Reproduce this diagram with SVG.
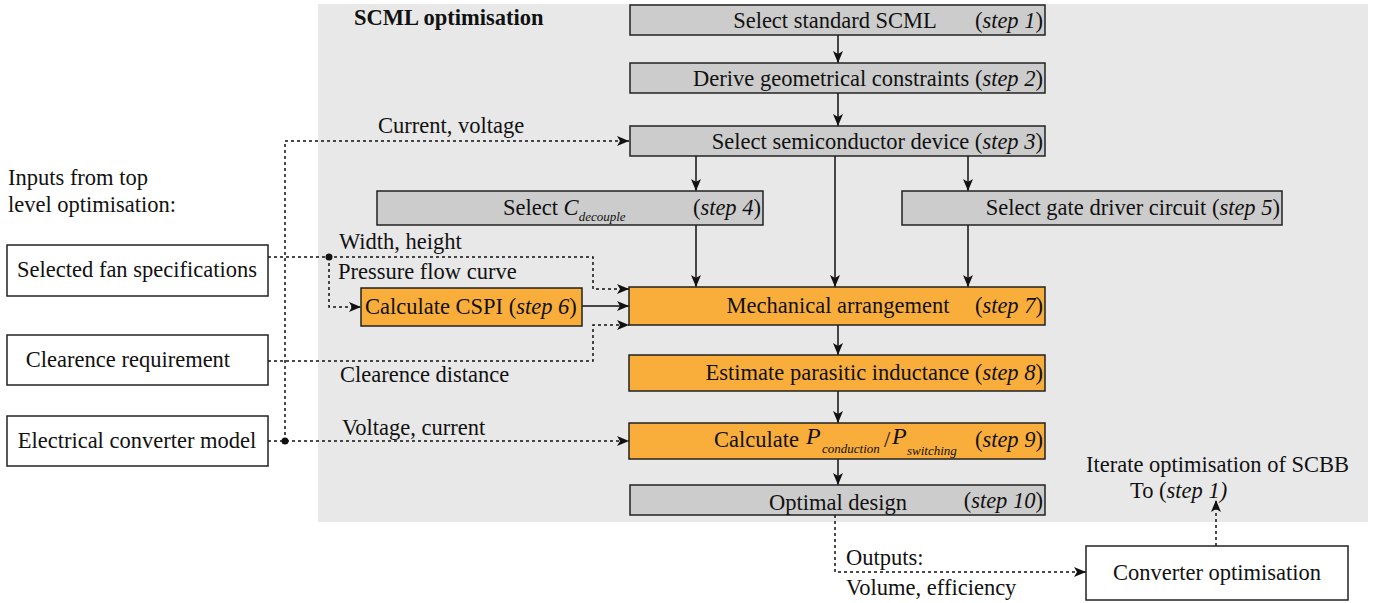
<svg xmlns="http://www.w3.org/2000/svg" width="1379" height="603" viewBox="0 0 1379 603">
<style>
text{font-size:22.5px;fill:#111}
.b{font-weight:bold;font-size:22.5px}
.i{font-style:italic}
.g{fill:#cccccc;stroke:#222;stroke-width:1.5}
.o{fill:#f9ae3b;stroke:#222;stroke-width:1.5}
.w{fill:#fff;stroke:#222;stroke-width:1.5}
.s{fill:none;stroke:#111;stroke-width:1.5}
.d{fill:none;stroke:#111;stroke-width:1.5;stroke-dasharray:3 3}
.sub{font-size:13px;font-style:italic}
.P{font-size:24px;font-style:italic}
</style>
<defs>
<marker id="a" viewBox="0 0 12 10" refX="12" refY="5" markerWidth="12" markerHeight="10" markerUnits="userSpaceOnUse" orient="auto">
<path d="M0,0 L12,5 L0,10 L3,5 Z" fill="#111"/>
</marker>
</defs>
<g style="font-family:'Liberation Serif',serif">
<rect x="318" y="4" width="1050" height="518" fill="#e8e8e8"/>
<text class="b" x="354" y="25">SCML optimisation</text>
<text x="8" y="185">Inputs from top</text>
<text x="8" y="212">level optimisation:</text>

<g id="connectors">
<path class="s" d="M838,35 V63" marker-end="url(#a)"/>
<path class="s" d="M838,93 V126" marker-end="url(#a)"/>
<path class="s" d="M696,156 V191" marker-end="url(#a)"/>
<path class="s" d="M835,156 V287" marker-end="url(#a)"/>
<path class="s" d="M968,156 V191" marker-end="url(#a)"/>
<path class="s" d="M696,225 V287" marker-end="url(#a)"/>
<path class="s" d="M968,225 V287" marker-end="url(#a)"/>
<path class="s" d="M582,306 H629" marker-end="url(#a)"/>
<path class="s" d="M838,325 V355" marker-end="url(#a)"/>
<path class="s" d="M838,391 V423" marker-end="url(#a)"/>
<path class="s" d="M838,459 V485" marker-end="url(#a)"/>
<path class="d" d="M835,515 V572 H1086" marker-end="url(#a)"/>
<path class="d" d="M1216,546 V500" marker-end="url(#a)"/>
<path class="d" d="M285,441 V141 H629" marker-end="url(#a)"/>
<path class="d" d="M268,441 H629" marker-end="url(#a)"/>
<circle cx="285" cy="441" r="3.5" fill="#111"/>
<path class="d" d="M268,257 H593 V289 H629" marker-end="url(#a)"/>
<path class="d" d="M329,257 V307 H361" marker-end="url(#a)"/>
<circle cx="329" cy="257" r="3.5" fill="#111"/>
<path class="d" d="M268,361 H593 V325 H629" marker-end="url(#a)"/>
<text x="378" y="133">Current, voltage</text>
<text x="339" y="249">Width, height</text>
<text x="338" y="279">Pressure flow curve</text>
<text x="340" y="382">Clearence distance</text>
<text x="342" y="435">Voltage, current</text>
<text x="846" y="565">Outputs:</text>
<text x="846" y="595">Volume, efficiency</text>
<text x="1086" y="472">Iterate optimisation of SCBB</text>
<text x="1130" y="498">To (<tspan class="i">step 1)</tspan></text>
</g>

<g id="step1"><rect class="g" x="630" y="5" width="415" height="30"/>
<text x="835" y="28" text-anchor="middle">Select standard SCML</text>
<text x="1043" y="28" text-anchor="end">(<tspan class="i">step 1</tspan>)</text></g>
<g id="step2"><rect class="g" x="630" y="63" width="415" height="30"/>
<text x="1043" y="86" text-anchor="end">Derive geometrical constraints (<tspan class="i">step 2</tspan>)</text></g>
<g id="step3"><rect class="g" x="630" y="126" width="415" height="30"/>
<text x="1043" y="149" text-anchor="end">Select semiconductor device  (<tspan class="i">step 3</tspan>)</text></g>
<g id="step4"><rect class="g" x="377" y="191" width="386" height="34"/>
<text x="503" y="215">Select <tspan class="i">C</tspan><tspan class="sub" dy="6">decouple</tspan></text>
<text x="761" y="215" text-anchor="end">(<tspan class="i">step 4</tspan>)</text></g>
<g id="step5"><rect class="g" x="902" y="191" width="380" height="34"/>
<text x="1280" y="215" text-anchor="end">Select gate driver circuit (<tspan class="i">step 5</tspan>)</text></g>
<g id="step6"><rect class="o" x="361" y="288" width="221" height="38"/>
<text x="365" y="314">Calculate CSPI  (<tspan class="i">step 6</tspan>)</text></g>
<g id="step7"><rect class="o" x="629" y="287" width="416" height="38"/>
<text x="838" y="313" text-anchor="middle">Mechanical arrangement</text>
<text x="1043" y="313" text-anchor="end">(<tspan class="i">step 7</tspan>)</text></g>
<g id="step8"><rect class="o" x="629" y="355" width="416" height="36"/>
<text x="1043" y="380" text-anchor="end">Estimate parasitic inductance (<tspan class="i">step 8</tspan>)</text></g>
<g id="step9"><rect class="o" x="629" y="423" width="416" height="36"/>
<text x="714" y="447">Calculate</text>
<text x="806" y="444" class="P">P</text>
<text x="822" y="453" class="sub">conduction</text>
<text x="884" y="447">/</text>
<text x="892" y="444" class="P">P</text>
<text x="907" y="455" class="sub">switching</text>
<text x="1043" y="447" text-anchor="end">(<tspan class="i">step 9</tspan>)</text></g>
<g id="step10"><rect class="g" x="630" y="485" width="415" height="30"/>
<text x="838" y="510" text-anchor="middle">Optimal design</text>
<text x="1043" y="508" text-anchor="end">(<tspan class="i">step 10</tspan>)</text></g>
<g id="fan"><rect class="w" x="7" y="245" width="261" height="51"/>
<text x="137" y="277" text-anchor="middle">Selected fan specifications</text></g>
<g id="clearence"><rect class="w" x="7" y="335" width="261" height="50"/>
<text x="128" y="367" text-anchor="middle">Clearence requirement</text></g>
<g id="electrical"><rect class="w" x="7" y="416" width="261" height="50"/>
<text x="137" y="448" text-anchor="middle">Electrical converter model</text></g>
<g id="converter"><rect class="w" x="1086" y="546" width="262" height="54"/>
<text x="1217" y="580" text-anchor="middle">Converter optimisation</text></g>
</g>
</svg>
